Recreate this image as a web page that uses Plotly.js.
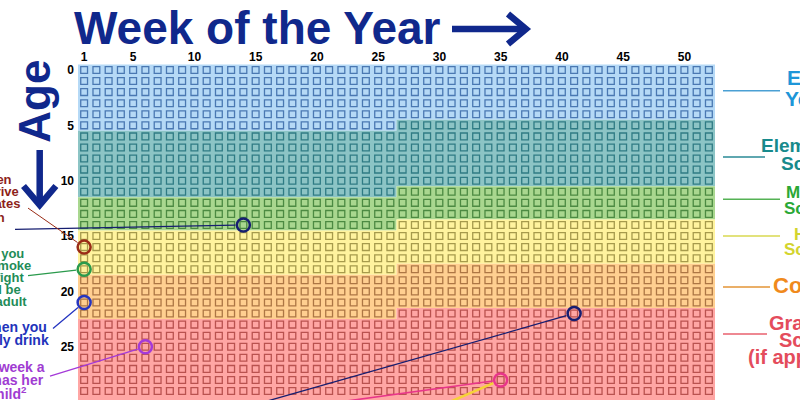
<!DOCTYPE html>
<html><head><meta charset="utf-8">
<script src="https://cdn.plot.ly/plotly-3.0.1.min.js"></script>
<style>html,body{margin:0;padding:0;background:#fff}#chart{width:800px;height:400px}</style>
</head><body><div id="chart"></div>
<script>
// ---------------- data ----------------
const weekTicks = [1, 5, 10, 15, 20, 25, 30, 35, 40, 45, 50];
const ageTicks = [0, 5, 10, 15, 20, 25, 30];
const weeksPerYear = 52;
const agesShown = 31;               // rows 0..30 visible in the crop
const schoolStartWeek = 27;         // stage changes start in this week of the year

const stageNames = ["Early Years", "Elementary School", "Middle School", "High School", "College", "Graduate School (if applicable)"];
const stageStartAge = [0, 5, 11, 14, 18, 22];
const stageLabelLines = [["Early", "Years"], ["Elementary", "School"], ["Middle", "School"], ["High", "School"], ["College"], ["Graduate", "School", "(if applicable)"]];

const eventNames = ["Week 14 of age 14", "Drive", "Adult", "Drink", "First child", "Week 41 of age 22", "Week 35 of age 28"];
const eventWeek = [14, 1, 1, 1, 6, 41, 35];
const eventAge  = [14, 16, 18, 21, 25, 22, 28];

const driveLines = ["Week when", "you can drive", "in most states", "as a teen"];
const adultLines = ["Week when you", "can legally smoke", "cigarettes, fight", "in wars, will be", "deemed an adult"];
const drinkLines = ["Week when you", "can legally drink"];
const childLines = ["Average week a", "mother has her", "first child<sup>2</sup>"];

// ---------------- styles ----------------
const FONT = "Liberation Sans, Arial, Helvetica, sans-serif";
const NAVY = "#10288c";
const stageFill   = ["#b5d9f6", "#8cc4c5", "#a9d78f", "#fff39e", "#ffcf90", "#ffa6a4"];
const stageSquare = ["#4a78b2", "#2f7b84", "#4c8a42", "#a69a4c", "#ad7644", "#b9524f"];
const stageLabelColor = ["#1e96d8", "#178a8c", "#2aa836", "#d3d42e", "#f08a1c", "#e44c5c"];
const stageLineColor  = ["#4aa0d4", "#2a8a96", "#55b255", "#d8d850", "#e39436", "#e8606e"];
const stageLabelFont = [21, 19, 17, 17, 22, 20];
const stageLabelY = [[77.5, 99], [145, 163.5], [192.5, 208], [234, 249], [285], [322.5, 339.5, 356.5]];
const stageLineY = [90.7, 157, 199.3, 236, 287, 334];
const stageLineEnd = [780, 765, 780, 780, 770, 767];

const eventColor = ["#161e70", "#9a2c16", "#2a9a4c", "#2535c0", "#a43ad8", "#161e70", "#e8358a"];

// ---------------- geometry ----------------
const W = 800, H = 400, M = {l: 78, r: 85, t: 64, b: 0};
const xRange = [0.5, 52.5], yRange = [29.81, -0.54];
const PW = W - M.l - M.r, PH = H - M.t - M.b;
function pxX(px) { return (px - M.l) / PW; }
function pxY(py) { return (H - M.b - py) / PH; }
function px2x(px) { return xRange[0] + (px - M.l) / PW * (xRange[1] - xRange[0]); }
function px2y(py) { return yRange[1] + (py - M.t) / PH * (yRange[0] - yRange[1]); }

function stageOf(w, a) {
  const t = a + (w >= schoolStartWeek ? 0.5 : 0);
  let s = 0;
  for (let i = 1; i < stageStartAge.length; i++) if (t >= stageStartAge[i] + 0.5) s = i;
  return s;
}

// grid of weeks
const gx = [], gy = [], gc = [];
for (let a = 0; a < agesShown; a++) {
  for (let w = 1; w <= weeksPerYear; w++) {
    gx.push(w); gy.push(a); gc.push(stageSquare[stageOf(w, a)]);
  }
}

// band shapes
const b = schoolStartWeek - 0.5, xl = 0.5, xr = weeksPerYear + 0.5;
const shapes = [];
for (let i = 0; i < stageStartAge.length; i++) {
  const s = stageStartAge[i];
  const e = i + 1 < stageStartAge.length ? stageStartAge[i + 1] : 200;
  let p;
  if (i === 0) p = `M${xl},${s - 0.5} L${xr},${s - 0.5}`;
  else p = `M${xl},${s + 0.5} L${b},${s + 0.5} L${b},${s - 0.5} L${xr},${s - 0.5}`;
  if (i + 1 < stageStartAge.length) p += ` L${xr},${e - 0.5} L${b},${e - 0.5} L${b},${e + 0.5} L${xl},${e + 0.5} Z`;
  else p += ` L${xr},${e} L${xl},${e} Z`;
  shapes.push({type: "path", xref: "x", yref: "y", path: p, fillcolor: stageFill[i], line: {width: 0}, layer: "below"});
}
// right-side leader lines
for (let i = 0; i < stageNames.length; i++) {
  shapes.push({type: "line", xref: "paper", yref: "paper", x0: pxX(723), x1: pxX(stageLineEnd[i]),
    y0: pxY(stageLineY[i]), y1: pxY(stageLineY[i]), line: {color: stageLineColor[i], width: 1.5}});
}
// title arrow and Age arrow
function seg(x0, y0, x1, y1) {
  return {type: "line", xref: "paper", yref: "paper", x0: pxX(x0), y0: pxY(y0), x1: pxX(x1), y1: pxY(y1), line: {color: NAVY, width: 6.5}};
}
function chevron(pts) {
  return {type: "path", xref: "paper", yref: "paper",
    path: "M" + pts.map(p => pxX(p[0]) + "," + pxY(p[1])).join(" L"), line: {color: NAVY, width: 6.5}};
}
shapes.push(seg(452, 29, 523, 29));
shapes.push(chevron([[508, 14], [526, 29], [508, 44]]));
shapes.push(seg(39.7, 150, 39.7, 203));
shapes.push(chevron([[23.5, 186], [39.7, 205], [55.9, 186]]));

// annotations
const annotations = [];
annotations.push({xref: "paper", yref: "paper", x: pxX(34.2), y: pxY(101.5), text: "Age", textangle: -90,
  showarrow: false, xanchor: "center", yanchor: "middle", font: {family: FONT, size: 44, color: NAVY, weight: "bold"}});

for (let i = 0; i < stageNames.length; i++) {
  stageLabelLines[i].forEach((ln, k) => {
    annotations.push({xref: "paper", yref: "paper", x: pxX(813), y: pxY(stageLabelY[i][k]), text: ln,
      showarrow: false, xanchor: "center", yanchor: "middle",
      font: {family: FONT, size: stageLabelFont[i], color: stageLabelColor[i], weight: "bold"}});
  });
}

function textBlock(lines, cx, baselines, size, color) {
  lines.forEach((ln, k) => {
    annotations.push({xref: "paper", yref: "paper", x: pxX(cx), y: pxY(baselines[k] - 0.3465 * size), text: ln,
      showarrow: false, xanchor: "center", yanchor: "middle", align: "center",
      font: {family: FONT, size: size, color: color, weight: "bold"}});
  });
}
textBlock(driveLines, -23, [184, 196, 208.3, 221.7], 13, "#8e1f1a");
textBlock(adultLines, -24.8, [258, 270, 281.7, 294, 305.7], 13, "#1f8c58");
textBlock(drinkLines, -5.9, [331.7, 345], 14, "#2233bb");
textBlock(childLines, -7.2, [371.7, 385, 398], 14, "#a03cd2");

// leader lines from circles (head at event, tail in pixels)
const leaderTail = [[12, 229.5], [25, 206], [25, 276], [50, 331], [47, 377], [120, 443], [200, 421]];
const leaderWidth = [1.3, 1, 1.3, 1.3, 1.3, 1.3, 1.6];
for (let i = 0; i < eventWeek.length; i++) {
  annotations.push({x: eventWeek[i], y: eventAge[i], xref: "x", yref: "y", axref: "x", ayref: "y",
    ax: px2x(leaderTail[i][0]), ay: px2y(leaderTail[i][1]), text: " ", showarrow: true, arrowhead: 0,
    arrowwidth: leaderWidth[i], arrowcolor: eventColor[i], standoff: 8});
}
// second (yellow) leader to the week-35 circle
annotations.push({x: eventWeek[6], y: eventAge[6], xref: "x", yref: "y", axref: "x", ayref: "y",
  ax: px2x(380), ay: px2y(432), text: " ", showarrow: true, arrowhead: 0,
  arrowwidth: 2.6, arrowcolor: "#f6d238", standoff: 8});

const traces = [
  {type: "scatter", mode: "markers", x: gx, y: gy, hoverinfo: "skip",
    marker: {symbol: "square-open", size: 6.8, color: gc, line: {width: 1.3}}},
  {type: "scatter", mode: "markers", x: eventWeek, y: eventAge, text: eventNames, cliponaxis: false,
    marker: {symbol: "circle-open", size: 13, color: eventColor, line: {width: 2.5}}}
];

const layout = {
  width: W, height: H, margin: {l: M.l, r: M.r, t: M.t, b: M.b, autoexpand: false},
  paper_bgcolor: "#fff", plot_bgcolor: "#fff", showlegend: false,
  title: {text: "Week of the Year", xref: "container", yref: "container", x: 74 / W, xanchor: "left",
    y: 1 - 44 / H, yanchor: "bottom", font: {family: FONT, size: 46, color: NAVY, weight: "bold"}},
  xaxis: {range: xRange, side: "top", tickvals: weekTicks, ticks: "", showgrid: false, zeroline: false, showline: false,
    tickfont: {family: FONT, size: 12, color: "#000", weight: "bold"}, ticklabelstandoff: 0, fixedrange: true},
  yaxis: {range: yRange, tickvals: ageTicks, ticks: "", showgrid: false, zeroline: false, showline: false,
    tickfont: {family: FONT, size: 12, color: "#000", weight: "bold"}, ticklabelstandoff: 3, fixedrange: true},
  shapes: shapes, annotations: annotations
};

Plotly.newPlot("chart", traces, layout, {displayModeBar: false, staticPlot: true});
</script></body></html>
